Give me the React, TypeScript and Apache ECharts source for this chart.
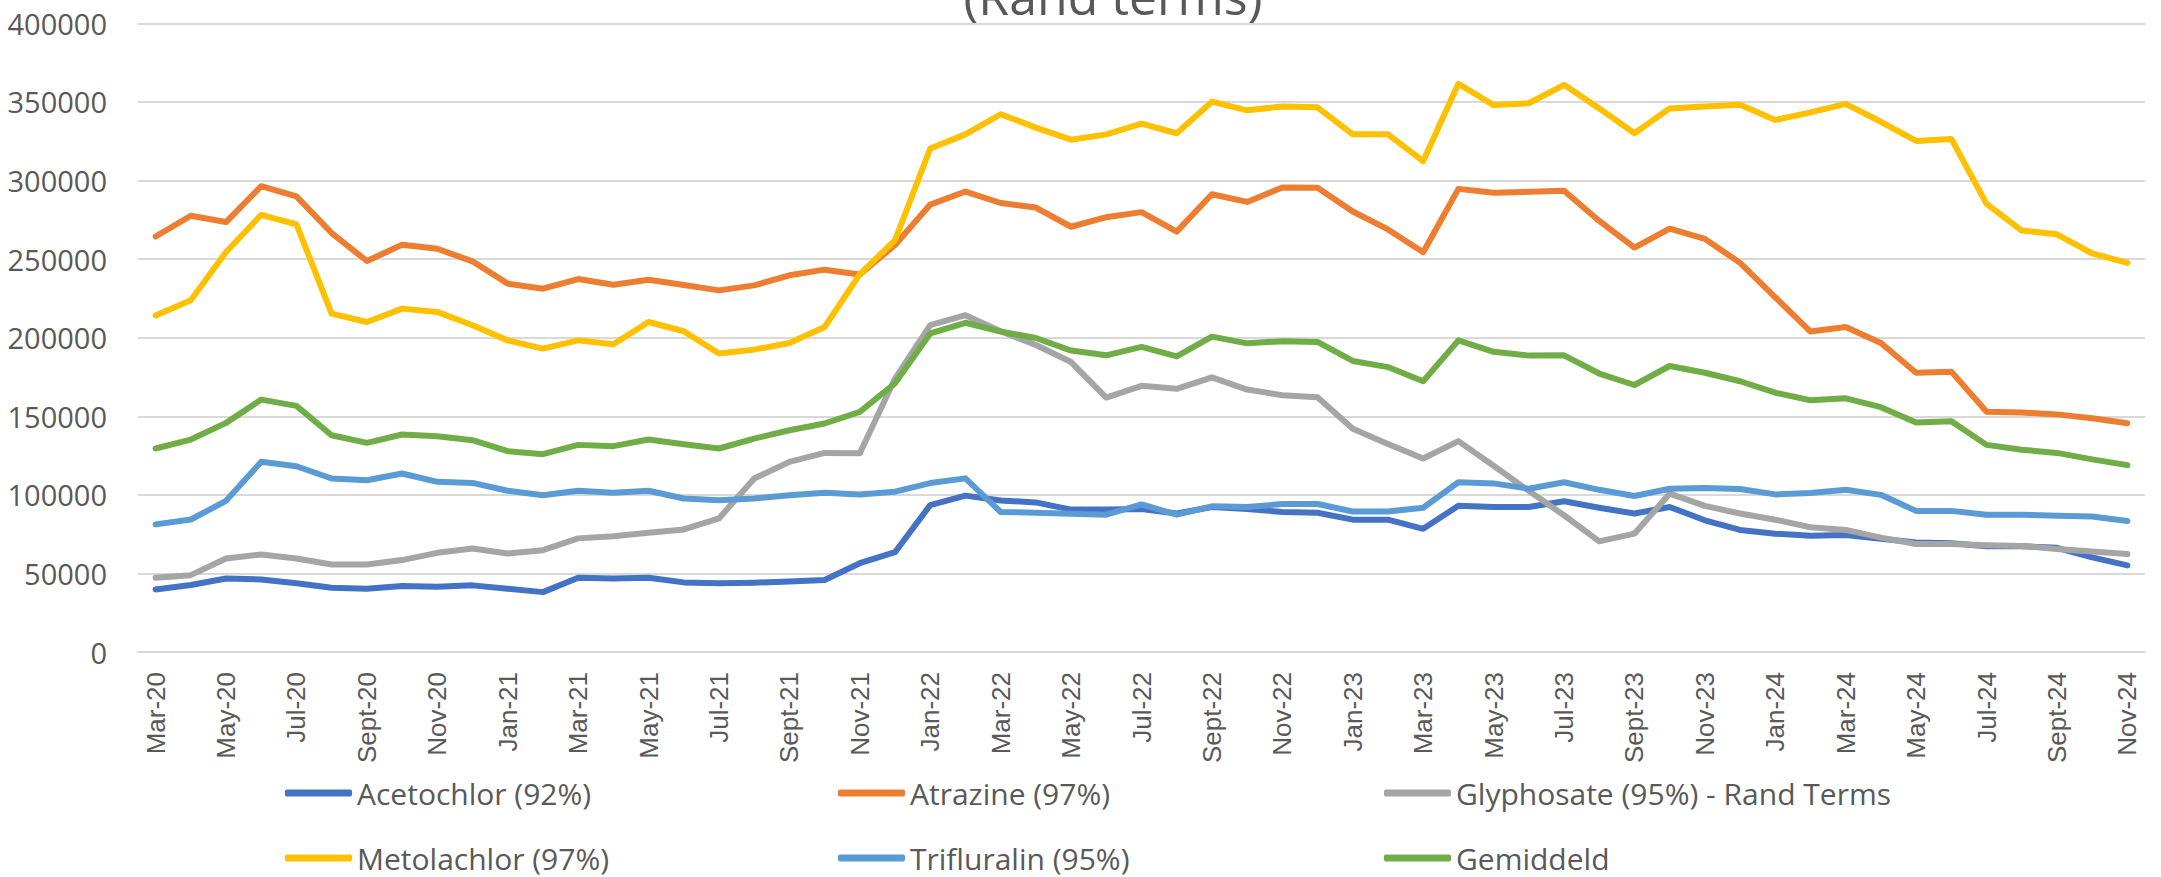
import React, { useEffect, useRef } from "react";
import * as echarts from "echarts";

const categories = [
  "Mar-20", "Apr-20", "May-20", "Jun-20", "Jul-20", "Aug-20", "Sept-20", "Oct-20", "Nov-20", "Dec-20",
  "Jan-21", "Feb-21", "Mar-21", "Apr-21", "May-21", "Jun-21", "Jul-21", "Aug-21", "Sept-21", "Oct-21", "Nov-21", "Dec-21",
  "Jan-22", "Feb-22", "Mar-22", "Apr-22", "May-22", "Jun-22", "Jul-22", "Aug-22", "Sept-22", "Oct-22", "Nov-22", "Dec-22",
  "Jan-23", "Feb-23", "Mar-23", "Apr-23", "May-23", "Jun-23", "Jul-23", "Aug-23", "Sept-23", "Oct-23", "Nov-23", "Dec-23",
  "Jan-24", "Feb-24", "Mar-24", "Apr-24", "May-24", "Jun-24", "Jul-24", "Aug-24", "Sept-24", "Oct-24", "Nov-24",
];

const acetochlor = [
  39800, 42600, 46800, 46200, 43700, 40900, 40300, 42000, 41500, 42400,
  40300, 38100, 47300, 46800, 47300, 44300, 43700, 44100, 44900, 45800, 56500, 63500,
  93500, 99500, 96400, 95200, 90600, 90600, 91000, 88100, 92300, 91000, 89100, 88600,
  84200, 84200, 78400, 93000, 92300, 92300, 95900, 91800, 88100, 92300, 83800, 77700,
  75300, 74000, 74500, 72100, 69700, 69200, 67300, 67300, 66300, 60200, 55100,
];

const atrazine = [
  264400, 277600, 273600, 296400, 289900, 266600, 248800, 259100, 256600, 248600,
  234400, 231200, 237300, 233700, 236900, 233500, 230100, 233300, 239700, 243300, 240200, 259000,
  284700, 293000, 285700, 282800, 270600, 276700, 279900, 267500, 291300, 286400, 295600, 295400,
  280300, 268900, 254400, 294700, 292300, 292800, 293500, 274300, 257300, 269400, 262900, 247600,
  225700, 203900, 206800, 196600, 177700, 178400, 152900, 152400, 151200, 148800, 145600,
];

const glyphosate = [
  47300, 48900, 59500, 62100, 59500, 55700, 55700, 58500, 63100, 65900,
  62700, 64800, 72300, 73700, 75900, 78000, 85000, 110400, 121000, 126700, 126500, 174000,
  208000, 214300, 204100, 195400, 184500, 161900, 169400, 167500, 174800, 167000, 163400, 162100,
  142000, 132300, 123100, 134200, 118500, 102500, 87000, 70400, 75300, 100800, 93000, 88100,
  84200, 79400, 77700, 72800, 68700, 68700, 68000, 67500, 65600, 63900, 62400,
];

const metolachlor = [
  214200, 223800, 254500, 278200, 272100, 215300, 210000, 218500, 216400, 207900,
  198300, 193000, 198300, 195800, 210000, 204100, 189900, 192400, 196600, 206800, 240500, 262000,
  320400, 329400, 342200, 333700, 326000, 329400, 336200, 330100, 350200, 344700, 347100, 346600,
  329400, 329400, 312400, 361600, 348000, 349200, 360900, 345900, 330100, 345900, 347100, 348300,
  338600, 343400, 348800, 337400, 325200, 326500, 285200, 268200, 265800, 253600, 247600,
];

const trifluralin = [
  81200, 84300, 96200, 121000, 118200, 110400, 109300, 113600, 108300, 107600,
  102600, 99800, 102600, 101300, 102600, 97700, 96600, 97700, 99800, 101300, 100200, 102000,
  107500, 110500, 89100, 88600, 87900, 87400, 93900, 87400, 92700, 92200, 94200, 94200,
  89400, 89400, 91800, 108000, 107300, 103900, 108000, 103200, 99300, 103900, 104400, 103700,
  100300, 101200, 103200, 100000, 89800, 89800, 87400, 87400, 86700, 86200, 83300,
];

const gemiddeld = [
  129500, 135200, 145800, 160600, 156600, 137900, 133100, 138400, 137300, 134800,
  127800, 125900, 131800, 131000, 135200, 132200, 129500, 135800, 141100, 145400, 152800, 171000,
  202700, 209500, 203900, 199800, 191800, 188800, 194200, 188100, 200700, 196400, 197800, 197300,
  185200, 181300, 172300, 198300, 191000, 188600, 188800, 177200, 169900, 182000, 177700, 172300,
  165000, 160200, 161400, 155800, 146100, 146900, 131800, 128700, 126700, 122600, 118900,
];

const seriesNames = [
  "Acetochlor (92%)",
  "Atrazine (97%)",
  "Glyphosate (95%) - Rand Terms",
  "Metolachlor (97%)",
  "Trifluralin (95%)",
  "Gemiddeld",
];
const seriesData = [acetochlor, atrazine, glyphosate, metolachlor, trifluralin, gemiddeld];
const seriesColors = ["#4472C4", "#ED7D31", "#A5A5A5", "#FFC000", "#5B9BD5", "#70AD47"];

const titleText = "(Rand terms)";

export default function App() {
  const ref = useRef<HTMLDivElement>(null);
  useEffect(() => {
    if (!ref.current) return;
    const chart = echarts.init(ref.current, null, { renderer: "svg" });
    const legendPos = [
      [285, 778], [838, 778], [1384, 778],
      [285, 843], [838, 843], [1384, 843],
    ];
    chart.setOption({
      animation: false,
      backgroundColor: "#ffffff",
      graphic: [
        {
          type: "text",
          x: 1113,
          y: -4,
          style: {
            text: titleText,
            font: '50px "Open Sans"',
            fill: "#595959",
            textAlign: "center",
            textVerticalAlign: "middle",
            align: "center",
            verticalAlign: "middle",
          },
        },
      ],
      grid: { left: 138, right: 16, top: 23.4, bottom: 225, containLabel: false },
      legend: seriesNames.map((n, i) => ({
        data: [n],
        left: legendPos[i][0],
        top: legendPos[i][1],
        icon: "roundRect",
        itemWidth: 67,
        itemHeight: 7,
        itemGap: 0,
        selectedMode: false,
        padding: 0,
        textStyle: { fontFamily: "Open Sans", fontSize: 30, color: "#595959", padding: [0, 0, 0, 0] },
      })),
      xAxis: {
        type: "category",
        data: categories,
        boundaryGap: true,
        axisLine: { show: true, lineStyle: { color: "#D9D9D9", width: 2 } },
        axisTick: { show: false },
        axisLabel: {
          interval: 1,
          rotate: 90,
          margin: 20,
          fontFamily: "Liberation Sans",
          fontSize: 26,
          color: "#595959",
        },
        splitLine: { show: false },
      },
      yAxis: {
        type: "value",
        min: 0,
        max: 400000,
        interval: 50000,
        axisLine: { show: false },
        axisTick: { show: false },
        axisLabel: {
          margin: 31,
          fontFamily: "Open Sans",
          fontSize: 29,
          color: "#595959",
          formatter: (v: number) => String(v),
        },
        splitLine: { lineStyle: { color: "#D9D9D9", width: 2 } },
      },
      series: seriesNames.map((n, i) => ({
        name: n,
        type: "line",
        data: seriesData[i],
        symbol: "none",
        color: seriesColors[i],
        lineStyle: { width: 6, color: seriesColors[i], cap: "round", join: "round" },
        itemStyle: { color: seriesColors[i] },
      })),
    });
    return () => chart.dispose();
  }, []);
  return (
    <div
      ref={ref}
      style={{ position: "fixed", left: 0, top: 0, width: 2161, height: 877, background: "#fff" }}
    />
  );
}
